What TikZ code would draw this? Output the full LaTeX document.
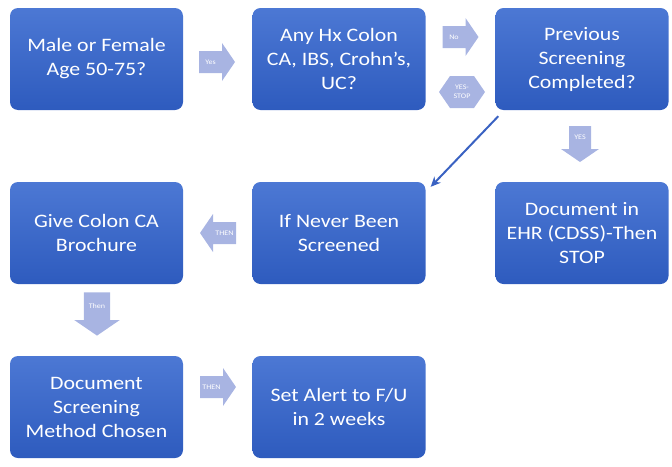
\documentclass[tikz,border=0pt]{standalone}
\usepackage{fontspec}
\setmainfont{Carlito}[FakeStretch=1.15]
\usetikzlibrary{arrows.meta,calc}
\definecolor{boxtop}{HTML}{4C78D4}
\definecolor{boxbot}{HTML}{2E5BBE}
\definecolor{arrowc}{HTML}{A8B4E2}
\definecolor{diagc}{HTML}{3A62C2}
\begin{document}
\begin{tikzpicture}[x=1pt,y=-1pt,
  box/.style={rectangle, rounded corners=8pt, minimum width=173pt, minimum height=102pt,
    top color=boxtop, bottom color=boxbot, draw=none, text=white, align=center,
    font=\fontsize{19}{24}\selectfont, inner sep=2pt},
  alab/.style={text=white, font=\fontsize{7}{9}\selectfont, inner sep=0pt, align=center},
  diag/.style={draw=diagc, line width=2pt, -{Stealth[length=10pt,width=9pt]}},
  pics/blockarrow/.style={code={\fill[arrowc] (-18,-11) -- (5,-11) -- (5,-19) -- (18,0) -- (5,19) -- (5,11) -- (-18,11) -- cycle;}}]
\useasboundingbox (0,0) rectangle (672,466);
% boxes
\node[box] (b1) at (96.5,59) {Male or Female\\Age 50-75?};
\node[box] (b2) at (339,59) {Any Hx Colon\\CA, IBS, Crohn's,\\UC?};
\node[box] (b3) at (582,59) {Previous\\Screening\\Completed?};
\node[box] (b4) at (582,233) {Document in\\EHR (CDSS)-Then\\STOP};
\node[box] (b5) at (339,233) {If Never Been\\Screened};
\node[box] (b6) at (96.5,233) {Give Colon CA\\Brochure};
\node[box] (b7) at (96.5,407) {Document\\Screening\\Method Chosen};
\node[box] (b8) at (339,407) {Set Alert to F/U\\in 2 weeks};
% block arrows
\pic at (217,62) {blockarrow};
\node[alab] (ayes) at (210.5,62) {Yes};
\pic at (460.5,37) {blockarrow};
\node[alab] (ano) at (454,37) {No};
\fill[arrowc] (439,92) -- (450,76) -- (474,76) -- (485,92) -- (474,108) -- (450,108) -- cycle;
\node[alab] (astop) at (462,92) {YES-\\STOP};
\pic[rotate=-90] at (580,144) {blockarrow};
\node[alab] (ayes2) at (580,137.5) {YES};
\pic[rotate=180] at (218,233) {blockarrow};
\node[alab] (athen1) at (224.5,233) {THEN};
\pic[rotate=-90,scale=1.2] at (97,314) {blockarrow};
\node[alab] (athen2) at (97,306) {Then};
\pic at (218,387) {blockarrow};
\node[alab] (athen3) at (211.5,387) {THEN};
% diagonal connector
\coordinate (ds) at ($(b3.south west)+(3,6)$);
\coordinate (de) at ($(b5.north east)+(5,5)$);
\draw[diag] (ds) -- (de);
\end{tikzpicture}
\end{document}
